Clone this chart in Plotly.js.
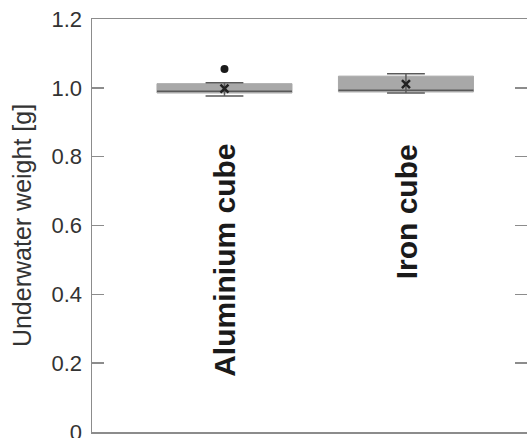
<!DOCTYPE html>
<html>
<head>
<meta charset="utf-8">
<script src="https://cdn.plot.ly/plotly-3.0.1.min.js"></script>
<style>html,body{margin:0;padding:0;background:#fff;}#chart{width:527px;height:438px;}</style>
</head>
<body>
<div id="chart"></div>
<script>
// Data
const categories = ["Aluminium cube", "Iron cube"];
const xPos = [0, 1];
const q1 = [0.985, 0.988];
const median = [0.990, 0.993];
const q3 = [1.012, 1.034];
const lowerWhisker = [0.976, 0.985];
const upperWhisker = [1.015, 1.041];
const means = [0.998, 1.011];
const outlierX = [0];
const outlierY = [1.055];
const yTickVals = [0, 0.2, 0.4, 0.6, 0.8, 1.0, 1.2];
const yTickText = ["0", "0.2", "0.4", "0.6", "0.8", "1.0", "1.2"];
const labelY = 0.843;

const boxGray = "#a8a8a8";
const darkLine = "#5a5a5a";
const axisGray = "#8c8c8c";
const textCol = "#333333";

const traces = [
  {
    type: "box", x: xPos, q1: q1, median: q1, q3: q3,
    lowerfence: q1, upperfence: q3,
    fillcolor: boxGray, line: {color: boxGray, width: 1},
    width: 0.744, whiskerwidth: 0, boxpoints: false,
    hoverinfo: "skip", showlegend: false
  },
  {
    type: "box", x: xPos, q1: median, median: median, q3: median,
    lowerfence: lowerWhisker, upperfence: upperWhisker,
    fillcolor: "rgba(0,0,0,0)", line: {color: darkLine, width: 1.5},
    width: 0.744, whiskerwidth: 0.28, boxpoints: false,
    hoverinfo: "skip", showlegend: false
  },
  {
    type: "scatter", mode: "markers", x: xPos, y: means,
    marker: {symbol: "x-thin", size: 8, color: "#222222", line: {width: 2.5, color: "#222222"}},
    showlegend: false, hoverinfo: "skip"
  },
  {
    type: "scatter", mode: "markers", x: outlierX, y: outlierY,
    marker: {symbol: "circle", size: 8, color: "#1a1a1a"},
    showlegend: false, hoverinfo: "skip"
  },
  {
    type: "scatter", mode: "markers", x: [xPos[0]], y: [means[0]],
    yaxis: "y2", marker: {opacity: 0}, showlegend: false, hoverinfo: "skip"
  }
];

const annotations = categories.map((c, i) => ({
  x: xPos[i], y: labelY, xref: "x", yref: "y",
  text: "<b>" + c + "</b>", textangle: -90, showarrow: false,
  xanchor: "center", yanchor: "top",
  font: {family: "Liberation Sans, Arial, sans-serif", size: 30, color: "#1a1a1a"}
}));

const layout = {
  width: 527, height: 438,
  margin: {l: 92, r: 0, t: 19, b: 6},
  paper_bgcolor: "#ffffff", plot_bgcolor: "#ffffff",
  font: {family: "Liberation Sans, Arial, sans-serif", color: textCol},
  boxmode: "overlay",
  showlegend: false,
  xaxis: {
    range: [-0.73, 1.667], showticklabels: false, ticks: "",
    showgrid: false, zeroline: false, showline: true, mirror: true,
    linecolor: axisGray, linewidth: 1.5, fixedrange: true
  },
  yaxis: {
    range: [0, 1.2], tickvals: yTickVals, ticktext: yTickText,
    ticks: "inside", ticklen: 12, tickcolor: axisGray, tickwidth: 1.5,
    showgrid: false, zeroline: false, showline: true,
    linecolor: axisGray, linewidth: 1.5,
    tickfont: {size: 22, color: textCol}, ticklabelstandoff: 4,
    ticklabeloverflow: "allow",
    title: {text: "Underwater weight [g]", font: {size: 25, color: textCol}, standoff: 13},
    automargin: false
  },
  yaxis2: {
    range: [0, 1.2], overlaying: "y", side: "right",
    tickvals: yTickVals, ticks: "inside", ticklen: 12, tickcolor: axisGray, tickwidth: 1.5,
    showticklabels: false, showgrid: false, zeroline: false, showline: false
  },
  annotations: annotations
};

Plotly.newPlot("chart", traces, layout, {displayModeBar: false, staticPlot: true});
</script>
</body>
</html>
